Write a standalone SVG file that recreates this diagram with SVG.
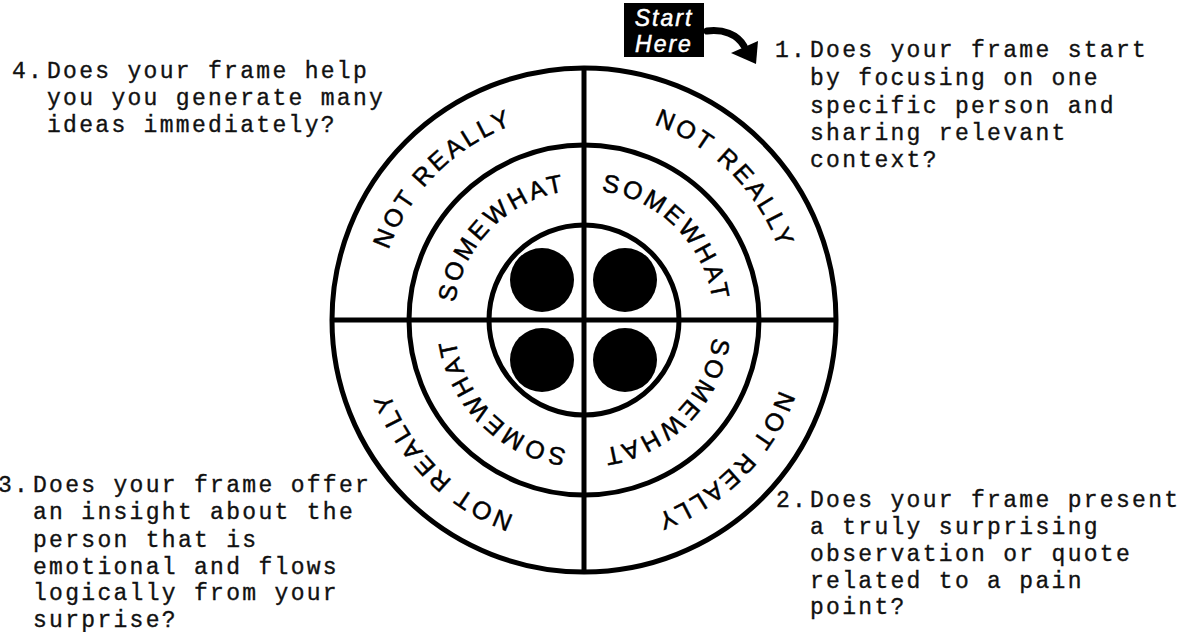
<svg xmlns="http://www.w3.org/2000/svg" width="1188" height="632" viewBox="0 0 1188 632">
<style>
.ring{fill:none;stroke:#000;stroke-width:5}
.div{stroke:#000;stroke-width:5}
.dot{fill:#000}
.arc{font-family:"Liberation Sans",Arial,sans-serif;font-size:25px;letter-spacing:3px;fill:#000;stroke:#000;stroke-width:0.5;text-anchor:middle}
.q{font-family:"Liberation Mono","Courier New",monospace;font-size:23px;letter-spacing:2.3px;fill:#111;stroke:#111;stroke-width:0.35}
.start{font-family:"Liberation Sans",Arial,sans-serif;font-style:italic;font-size:23px;letter-spacing:2px;fill:#fff;stroke:#fff;stroke-width:0.5;text-anchor:middle}
</style>
<defs>
<path id="pOuter" d="M376.5,320 A207.5,207.5 0 0 1 791.5,320 A207.5,207.5 0 0 1 376.5,320"/>
<path id="pMid" d="M454,320 A130,130 0 0 1 714,320 A130,130 0 0 1 454,320"/>
</defs>
<rect width="1188" height="632" fill="#fff"/>
<g id="target">
<circle class="ring" cx="584" cy="320" r="252"/>
<circle class="ring" cx="584" cy="320" r="175"/>
<circle class="ring" cx="584" cy="320" r="95"/>
<line class="div" x1="332" y1="320" x2="836" y2="320"/>
<line class="div" x1="584" y1="68" x2="584" y2="572"/>
<circle class="dot" cx="542" cy="280" r="32"/>
<circle class="dot" cx="625" cy="280" r="32"/>
<circle class="dot" cx="542" cy="360" r="32"/>
<circle class="dot" cx="625" cy="360" r="32"/>
</g>
<g id="ring-labels">
<text class="arc"><textPath href="#pOuter" startOffset="12.5%">NOT REALLY</textPath></text>
<text class="arc"><textPath href="#pOuter" startOffset="37.5%">NOT REALLY</textPath></text>
<text class="arc"><textPath href="#pOuter" startOffset="62.5%">NOT REALLY</textPath></text>
<text class="arc"><textPath href="#pOuter" startOffset="87.5%">NOT REALLY</textPath></text>
<text class="arc"><textPath href="#pMid" startOffset="12.5%">SOMEWHAT</textPath></text>
<text class="arc"><textPath href="#pMid" startOffset="37.5%">SOMEWHAT</textPath></text>
<text class="arc"><textPath href="#pMid" startOffset="62.5%">SOMEWHAT</textPath></text>
<text class="arc"><textPath href="#pMid" startOffset="87.5%">SOMEWHAT</textPath></text>
</g>
<g id="start-here">
<rect x="624" y="3" width="80" height="54" fill="#000"/>
<text class="start" x="664" y="26">Start</text>
<text class="start" x="664" y="52">Here</text>
</g>
<g id="connectors">
<path d="M707,31 C723,29 737,34 744,46" fill="none" stroke="#000" stroke-width="7" stroke-linecap="round"/>
<polygon points="731,53 758,41 756,64" fill="#000"/>
</g>
<g id="q1">
<text class="q"><tspan x="775" y="57">1.</tspan><tspan x="810" y="57">Does your frame start</tspan><tspan x="810" y="85">by focusing on one</tspan><tspan x="810" y="112.5">specific person and</tspan><tspan x="810" y="140">sharing relevant</tspan><tspan x="810" y="167">context?</tspan></text>
</g>
<g id="q2">
<text class="q"><tspan x="776" y="507">2.</tspan><tspan x="810" y="507">Does your frame present</tspan><tspan x="810" y="534">a truly surprising</tspan><tspan x="810" y="561">observation or quote</tspan><tspan x="810" y="587.5">related to a pain</tspan><tspan x="810" y="614">point?</tspan></text>
</g>
<g id="q3">
<text class="q"><tspan x="-2" y="492">3.</tspan><tspan x="33" y="492">Does your frame offer</tspan><tspan x="33" y="519">an insight about the</tspan><tspan x="33" y="546.5">person that is</tspan><tspan x="33" y="573.5">emotional and flows</tspan><tspan x="33" y="600">logically from your</tspan><tspan x="33" y="627">surprise?</tspan></text>
</g>
<g id="q4">
<text class="q"><tspan x="12" y="77.5">4.</tspan><tspan x="47" y="77.5">Does your frame help</tspan><tspan x="47" y="104.5">you you generate many</tspan><tspan x="47" y="131.5">ideas immediately?</tspan></text>
</g>
</svg>
